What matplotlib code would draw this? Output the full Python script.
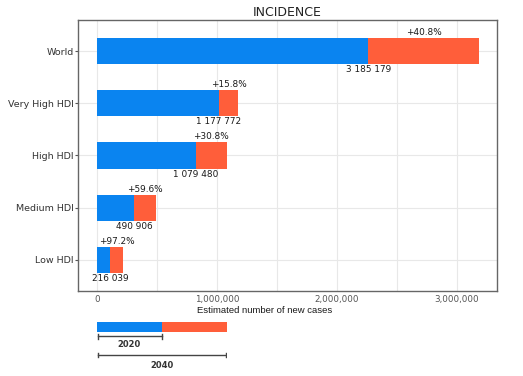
import matplotlib.pyplot as plt
from matplotlib.ticker import FuncFormatter

# Datos: casos nuevos estimados 2020 y 2040
categories = ['World', 'Very High HDI', 'High HDI', 'Medium HDI', 'Low HDI']
cases_2020 = [2262201, 1017074, 825291, 307585, 109553]
cases_2040 = [3185179, 1177772, 1079480, 490906, 216039]
pct_labels = ['+40.8%', '+15.8%', '+30.8%', '+59.6%', '+97.2%']
num_labels = ['3 185 179', '1 177 772', '1 079 480', '490 906', '216 039']

blue = '#0A84F0'
orange = '#FF5E3A'

fig = plt.figure(figsize=(5.23, 3.76), dpi=100)
W, H = 523, 376
ax = fig.add_axes([78 / W, 1 - 291 / H, (497 - 78) / W, (291 - 20) / H])

y = list(range(len(categories)))[::-1]
extra = [b - a for a, b in zip(cases_2020, cases_2040)]
ax.barh(y, cases_2020, height=0.5, color=blue, zorder=3)
ax.barh(y, extra, left=cases_2020, height=0.5, color=orange, zorder=3)

for yi, a, b, p, n in zip(y, cases_2020, cases_2040, pct_labels, num_labels):
    ax.text((a + b) / 2, yi + 0.27, p, ha='center', va='bottom', fontsize=6.4, color='#1a1a1a')
    ax.text(a, yi - 0.27, n, ha='center', va='top', fontsize=6.4, color='#1a1a1a')

ax.set_xlim(-158000, 3333000)
ax.set_ylim(-0.6, 4.6)
ax.set_yticks(y)
ax.set_yticklabels(categories, fontsize=6.8, color='#333333')
ax.set_xticks([0, 1000000, 2000000, 3000000])
ax.set_xticks([500000, 1500000, 2500000], minor=True)
ax.xaxis.set_major_formatter(FuncFormatter(lambda v, _: f'{int(v):,}'))
ax.tick_params(axis='x', labelsize=6.3, colors='#555555', length=0, pad=3)
ax.tick_params(axis='x', which='minor', length=0)
ax.tick_params(axis='y', length=2, color='#555555', pad=1)
ax.grid(True, which='both', color='#e8e8e8', linewidth=0.8, zorder=0)
for s in ax.spines.values():
    s.set_color('#666666')
    s.set_linewidth(1)
ax.set_xlabel('Estimated number of new cases', fontsize=6.8, family='Liberation Sans',
              color='#1a1a1a')
ax.xaxis.set_label_coords(0.446, -0.055)
ax.set_title('INCIDENCE', fontsize=9, color='#222222', pad=3)

# Leyenda: barra 2020 / 2040
lax = fig.add_axes([97 / W, 1 - 372 / H, (227 - 97) / W, (372 - 318) / H])
lax.set_xlim(0, 2)
lax.set_ylim(0, 1)
lax.axis('off')
lax.barh(0.83, 1, height=0.19, color=blue)
lax.barh(0.83, 1, left=1, height=0.19, color=orange)
lax.plot([0.02, 1], [0.66, 0.66], color='#444444', lw=1)
lax.plot([0.02, 0.02], [0.62, 0.70], color='#444444', lw=1)
lax.plot([1, 1], [0.62, 0.70], color='#444444', lw=1)
lax.text(0.5, 0.6, '2020', ha='center', va='top', fontsize=6, color='#333333', fontweight='bold')
lax.plot([0.02, 1.98], [0.31, 0.31], color='#444444', lw=1)
lax.plot([0.02, 0.02], [0.27, 0.35], color='#444444', lw=1)
lax.plot([1.98, 1.98], [0.27, 0.35], color='#444444', lw=1)
lax.text(1.0, 0.2, '2040', ha='center', va='top', fontsize=6, color='#333333', fontweight='bold')

fig.savefig('out.png', dpi=100)
